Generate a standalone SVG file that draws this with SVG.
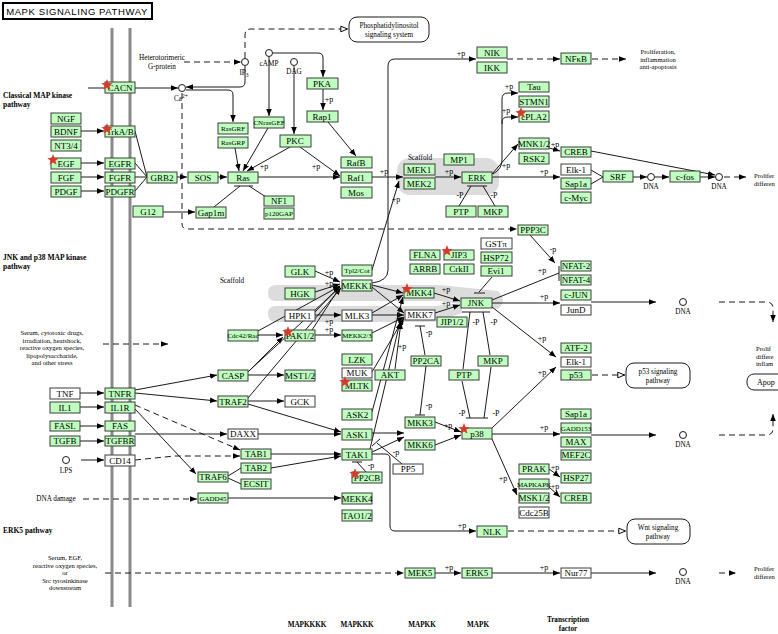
<svg xmlns="http://www.w3.org/2000/svg" xmlns:xlink="http://www.w3.org/1999/xlink" width="778" height="634" viewBox="0 0 778 634">
<style>
.n{fill:#bfffbf;stroke:#3c3c3c;stroke-width:1}
.w{fill:#ffffff;stroke:#3c3c3c;stroke-width:1}
.t{font-family:"Liberation Serif",serif;font-size:9px;text-anchor:middle;fill:#000}
.s{font-family:"Liberation Serif",serif;font-size:7px;text-anchor:middle;fill:#000}
.f{font-family:"Liberation Serif",serif;font-size:7.2px;text-anchor:middle;fill:#000}
.g{font-family:"Liberation Serif",serif;font-size:6.6px;text-anchor:middle;fill:#000}
.fl{font-family:"Liberation Serif",serif;font-size:6.6px;fill:#000}
.b{font-family:"Liberation Serif",serif;font-size:7.5px;font-weight:bold;fill:#000}
.bc{font-family:"Liberation Serif",serif;font-size:7.2px;font-weight:bold;text-anchor:middle;fill:#000}
.p{font-family:"Liberation Serif",serif;font-size:8px;text-anchor:middle;fill:#000}
.l{fill:none;stroke:#1a1a1a;stroke-width:1}
.la{fill:none;stroke:#1a1a1a;stroke-width:1;marker-end:url(#ar)}
.d{fill:none;stroke:#1a1a1a;stroke-width:1;stroke-dasharray:6,4}
.da{fill:none;stroke:#1a1a1a;stroke-width:1;stroke-dasharray:6,4;marker-end:url(#ar)}
.do{fill:none;stroke:#1a1a1a;stroke-width:1;stroke-dasharray:6,4;marker-end:url(#ao)}
.c{fill:#fff;stroke:#1a1a1a;stroke-width:1}
.pw{fill:#fff;stroke:#1a1a1a;stroke-width:1}
.sc{fill:#dcdcdc;stroke:none}
.st{fill:#d83a2a;stroke:none}
</style>
<defs>
<marker id="ar" viewBox="0 0 10 10" refX="10" refY="5" markerWidth="7" markerHeight="7" orient="auto" markerUnits="userSpaceOnUse"><path d="M0,1 L10,5 L0,9 z" fill="#000"/></marker>
<marker id="ao" viewBox="0 0 10 10" refX="10" refY="5" markerWidth="8" markerHeight="8" orient="auto" markerUnits="userSpaceOnUse"><path d="M1,1.5 L9.5,5 L1,8.5 z" fill="#fff" stroke="#000" stroke-width="1.2"/></marker>
<polygon id="star" points="0,-6 1.47,-2.02 5.71,-1.85 2.38,0.77 3.53,4.85 0,2.5 -3.53,4.85 -2.38,0.77 -5.71,-1.85 -1.47,-2.02" class="st"/>
</defs>
<rect width="778" height="634" fill="#fff"/>

<!-- title -->
<g id="title">
<rect x="3" y="3" width="149" height="16" fill="#fff" stroke="#000" stroke-width="2"/>
<text x="77" y="15" font-family="Liberation Sans, sans-serif" font-size="9.5px" letter-spacing="0.6" text-anchor="middle">MAPK SIGNALING PATHWAY</text>
</g>

<!-- membrane -->
<g id="membrane">
<line x1="112" y1="28" x2="112" y2="607" stroke="#8a8a8a" stroke-width="3"/>
<line x1="130" y1="28" x2="130" y2="607" stroke="#8a8a8a" stroke-width="3"/>
</g>

<!-- scaffolds -->
<g id="scaffolds">
<rect x="397" y="158" width="102" height="37" rx="13" class="sc"/>
<path class="sc" d="M276,285 H440 L498,291 Q508,300 498,309 L440,301 H276 Q268,301 268,293 Q268,285 276,285 Z"/>
<path class="sc" d="M276,306 H436 L462,303 L462,313 L436,322 H276 Q268,322 268,314 Q268,306 276,306 Z"/>
</g>

<!-- labels -->
<g id="labels">
<text class="b" x="3" y="98">Classical MAP kinase</text>
<text class="b" x="3" y="107">pathway</text>
<text class="b" x="3" y="260">JNK and p38 MAP kinase</text>
<text class="b" x="3" y="269">pathway</text>
<text class="b" x="3" y="533">ERK5 pathway</text>
<text class="f" x="162" y="60">Heterotorimeric</text>
<text class="f" x="162" y="69">G-protein</text>
<text class="f" x="420" y="160">Scaffold</text>
<text class="f" x="232" y="283">Scaffold</text>
<text class="g" x="658" y="54">Proliferation,</text>
<text class="g" x="658" y="61.5">inflammation</text>
<text class="g" x="658" y="69">anti-apoptosis</text>
<text class="fl" x="754" y="178">Prolifer</text>
<text class="fl" x="754" y="185.5">differen</text>
<text class="fl" x="756" y="351">Prolif</text>
<text class="fl" x="756" y="358.5">differe</text>
<text class="fl" x="756" y="366">inflam</text>
<text class="fl" x="754" y="571">Prolifer</text>
<text class="fl" x="754" y="578.5">differen</text>
<text class="g" x="52" y="335">Serum, cytotoxic drugs,</text>
<text class="g" x="52" y="342.5">irradiation, heatshock,</text>
<text class="g" x="52" y="350">reactive oxygen species,</text>
<text class="g" x="52" y="357.5">lipopolysaccharide,</text>
<text class="g" x="52" y="365">and other stress</text>
<text class="f" x="56" y="501">DNA damage</text>
<text class="g" x="65" y="560">Serum, EGF,</text>
<text class="g" x="65" y="567.5">reactive oxygen species,</text>
<text class="g" x="65" y="575">or</text>
<text class="g" x="65" y="582.5">Src tyrosinkinase</text>
<text class="g" x="65" y="590">downstream</text>
<text class="bc" x="307" y="627">MAPKKKK</text>
<text class="bc" x="357" y="627">MAPKKK</text>
<text class="bc" x="422" y="627">MAPKK</text>
<text class="bc" x="478" y="627">MAPK</text>
<text class="bc" x="568" y="622">Transcription</text>
<text class="bc" x="568" y="630.5">factor</text>
</g>

<!-- small molecules / DNA -->
<g id="compounds">
<circle class="c" cx="182" cy="88" r="3.5"/><text class="f" x="181" y="101">Ca<tspan font-size="5.5px" dy="-3">2+</tspan></text>
<circle class="c" cx="245" cy="62" r="3.5"/><text class="f" x="244" y="75">IP<tspan font-size="5.5px" dy="2">3</tspan></text>
<circle class="c" cx="269" cy="53" r="3.5"/><text class="f" x="269" y="66">cAMP</text>
<circle class="c" cx="294" cy="62" r="3.5"/><text class="f" x="294" y="74">DAG</text>
<circle class="c" cx="66" cy="460" r="3.5"/><text class="f" x="66" y="473">LPS</text>
<circle class="c" cx="651" cy="177" r="3.5"/><text class="f" x="651" y="189">DNA</text>
<circle class="c" cx="719" cy="177" r="3.5"/><text class="f" x="719" y="189">DNA</text>
<circle class="c" cx="683" cy="302" r="3.5"/><text class="f" x="683" y="314">DNA</text>
<circle class="c" cx="683" cy="435" r="3.5"/><text class="f" x="683" y="447">DNA</text>
<circle class="c" cx="683" cy="572" r="3.5"/><text class="f" x="683" y="584">DNA</text>
</g>

<!-- pathway maps -->
<g id="map-phosphatidylinositol"><rect class="pw" x="349" y="17" width="80" height="25" rx="8"/><text class="f" x="389" y="28">Phosphatidylinositol</text><text class="f" x="389" y="36.5">signaling system</text></g>
<g id="map-p53"><rect class="pw" x="626" y="363" width="64" height="25" rx="8"/><text class="f" x="658" y="374">p53 signaling</text><text class="f" x="658" y="382.5">pathway</text></g>
<g id="map-wnt"><rect class="pw" x="627" y="519" width="63" height="25" rx="8"/><text class="f" x="658" y="530">Wnt signaling</text><text class="f" x="658" y="538.5">pathway</text></g>
<g id="map-apoptosis"><rect class="pw" x="747" y="374" width="45" height="16" rx="7"/><text x="757" y="385" style="font-family:'Liberation Serif',serif;font-size:8px;fill:#000">Apop</text></g>

<!-- connectors -->
<g id="connectors">
<path class="l" d="M88,88 H104"/>
<path class="la" d="M135,88 H178"/>
<path class="la" d="M245,66 V82 Q245,87 240,87 H186"/>
<path class="la" d="M186,90 H228 Q233,90 233,95 V122"/>
<path class="da" d="M182,93 V224 Q182,229 187,229 H517"/>
<path class="da" d="M184,62 H241"/>
<path class="do" d="M245,58 V35 Q245,29 251,29 H348"/>
<path class="la" d="M269,57 V116"/>
<path class="la" d="M273,53 H318 Q323,53 323,58 V77"/>
<path class="la" d="M294,66 V134"/>
<path class="la" d="M323,89 V110"/>
<path class="la" d="M328,122 L356,156"/>
<path class="la" d="M235,148 L239,171"/>
<path class="la" d="M268,128 L243,171"/>
<path class="la" d="M290,147 L247,171"/>
<path class="la" d="M300,147 L340,176"/>
<path class="la" d="M81,131 H104"/>
<path class="la" d="M81,163 H104"/>
<path class="la" d="M81,177 H104"/>
<path class="la" d="M81,191 H104"/>
<path class="l" d="M135,131 L147,177 M135,163 L147,177 M135,177 H147 M135,191 L147,177"/>
<path class="la" d="M177,177 H187"/>
<path class="la" d="M218,177 H227"/>
<path class="la" d="M258,177 H340"/>
<path class="la" d="M163,212 H195"/>
<path class="l" d="M234,186 H253 M240,186 L214,207 M249,186 L266,197"/>
<path class="la" d="M372,177 H403"/>
<path class="la" d="M372,270 L399,181"/>
<path class="la" d="M435,177 H461"/>
<path class="la" d="M492,174 L518,144"/>
<path class="la" d="M493,174 Q502,169 502,160 V99 Q502,93 508,93 H518"/>
<path class="la" d="M502,124 V122 Q502,117 508,117 H518"/>
<path class="la" d="M492,177 H560"/>
<path class="la" d="M549,148 L560,151"/>
<path class="l" d="M591,170 L603,177 M591,184 L603,177"/>
<path class="la" d="M633,177 H647"/>
<path class="la" d="M655,177 H669"/>
<path class="la" d="M700,177 H715"/>
<path class="la" d="M591,151 L715,175"/>
<path class="da" d="M724,177 H746"/>
<path class="l" d="M467,186 H487 M471,186 L459,206 M483,186 L495,206"/>
<path class="da" d="M507,59 H560"/>
<path class="da" d="M592,59 H626"/>
<path class="la" d="M372,283 Q388,281 388,270 V66 Q388,59 395,59 H476"/>

<path class="da" d="M103,344 H168"/>
<path class="la" d="M80,393 H104"/>
<path class="la" d="M80,407 H104"/>
<path class="la" d="M80,426 H104"/>
<path class="la" d="M80,441 H104"/>
<path class="la" d="M81,460 H104"/>
<path class="la" d="M135,390 L217,375"/>
<path class="la" d="M135,393 L217,401"/>
<path class="la" d="M135,409 L196,474"/>
<path class="da" d="M135,405 L240,450"/>
<path class="la" d="M135,434 H227"/>
<path class="da" d="M135,460 L175,456 H240"/>
<path class="l" d="M228,476 L241,468 M228,478 L241,484"/>
<path class="la" d="M271,454 H341"/>
<path class="la" d="M271,468 L341,456"/>
<path class="la" d="M228,498 H341"/>
<path class="da" d="M83,499 H197"/>
<path class="la" d="M258,434 H341"/>
<path class="la" d="M248,404 L341,432"/>
<path class="la" d="M248,375 H284"/>
<path class="la" d="M248,401 H284"/>
<path class="la" d="M258,335 H283"/>
<path class="la" d="M248,372 L283,337"/>
<path class="la" d="M250,370 L340,287"/>
<path class="la" d="M248,398 L341,288"/>
<path class="la" d="M258,331 L340,286"/>
<path class="la" d="M315,271 L340,282"/>
<path class="la" d="M315,292 L340,284"/>
<path class="la" d="M315,312 L340,286"/>
<path class="la" d="M315,315 H341"/>
<path class="la" d="M315,335 H341"/>
<path class="l" d="M312,330 L340,287"/>
<path class="la" d="M372,285 L403,293"/>
<path class="la" d="M372,287 L404,313"/>
<path class="la" d="M372,313 L403,295"/>
<path class="la" d="M372,315 H404"/>
<path class="la" d="M372,333 L404,317"/>
<path class="la" d="M372,372 L404,318"/>
<path class="la" d="M372,412 L403,297"/>
<path class="la" d="M370,449 L400,322"/>
<path class="la" d="M395,369 L401,322"/>
<path class="la" d="M372,433 H404"/>
<path class="la" d="M372,452 L404,437"/>
<path class="la" d="M434,293 L460,301"/>
<path class="la" d="M435,313 L460,305"/>
<path class="l" d="M492,277 L479,292 M474,293 H485"/>
<path class="l" d="M492,300 L559,273 M559,266 V281"/>
<path class="la" d="M530,235 L555,263"/>
<path class="la" d="M492,303 H560"/>
<path class="la" d="M492,307 L556,357"/>
<path class="la" d="M492,428 L556,367"/>
<path class="l" d="M462,312 H490 M470,312 L463,369 M483,312 L490,355"/>
<path class="l" d="M466,418 H488 M470,418 L462,381 M484,418 L491,367"/>
<path class="l" d="M425,355 L420,326 M415,326 H425"/>
<path class="l" d="M426,366 L420,415 M415,415 H425"/>
<path class="l" d="M402,464 L377,443 M372,446 L380,439"/>
<path class="l" d="M366,472 L357,462 M352,462 H362"/>
<path class="la" d="M372,454 H385 Q390,454 390,459 V526 Q390,531 395,531 H476"/>
<path class="la" d="M435,422 L461,432"/>
<path class="la" d="M435,445 L461,435"/>
<path class="la" d="M492,434 H560"/>
<path class="la" d="M492,439 L517,495"/>
<path class="la" d="M549,469 L560,477"/>
<path class="la" d="M549,487 L560,497"/>
<path class="la" d="M591,435 H656"/>
<path class="da" d="M719,435 H766 Q773,435 773,429 V414"/>
<path class="la" d="M591,302 H656"/>
<path class="da" d="M719,302 H766 Q773,302 773,308 V322"/>
<path class="do" d="M592,375 H625"/>
<path class="do" d="M508,531 H626"/>
<path class="da" d="M105,573 H404"/>
<path class="la" d="M435,573 H461"/>
<path class="la" d="M492,573 H560"/>
<path class="la" d="M591,573 H656"/>
<path class="da" d="M719,573 H736"/>
</g>

<!-- phosphorylation labels -->
<g id="plabels">
<text class="p" x="329" y="102">+p</text>
<text class="p" x="264" y="169">+p</text>
<text class="p" x="316" y="169">+p</text>
<text class="p" x="384" y="174">+p</text>
<text class="p" x="449" y="174">+p</text>
<text class="p" x="396" y="202">+p</text>
<text class="p" x="461" y="56">+p</text>
<text class="p" x="509" y="89">+p</text>
<text class="p" x="506" y="113">+p</text>
<text class="p" x="506" y="168">+p</text>
<text class="p" x="544" y="174">+p</text>
<text class="p" x="555" y="147">+p</text>
<text class="p" x="460" y="198">-P</text>
<text class="p" x="494" y="198">-P</text>
<text class="p" x="329" y="275">+p</text>
<text class="p" x="329" y="286">+p</text>
<text class="p" x="329" y="324">+p</text>
<text class="p" x="329" y="332">+p</text>
<text class="p" x="446" y="292">+p</text>
<text class="p" x="446" y="306">+p</text>
<text class="p" x="542" y="273">+p</text>
<text class="p" x="553" y="252">-p</text>
<text class="p" x="544" y="299">+p</text>
<text class="p" x="542" y="341">+p</text>
<text class="p" x="542" y="375">+p</text>
<text class="p" x="476" y="325">-P</text>
<text class="p" x="494" y="325">-P</text>
<text class="p" x="462" y="416">-P</text>
<text class="p" x="496" y="416">-P</text>
<text class="p" x="429" y="335">-p</text>
<text class="p" x="429" y="408">-p</text>
<text class="p" x="402" y="349">+p</text>
<text class="p" x="396" y="455">-p</text>
<text class="p" x="371" y="468">-p</text>
<text class="p" x="448" y="428">+p</text>
<text class="p" x="544" y="430">+p</text>
<text class="p" x="503" y="481">+p</text>
<text class="p" x="555" y="470">+p</text>
<text class="p" x="555" y="489">+p</text>
<text class="p" x="462" y="528">+p</text>
<text class="p" x="449" y="570">+p</text>
<text class="p" x="544" y="570">+p</text>
</g>

<!-- nodes: classical -->
<g id="CACN"><rect class="n" x="105" y="82" width="30" height="11"/><text class="t" x="120" y="91">CACN</text><use xlink:href="#star" x="107" y="85"/></g>
<g id="NGF"><rect class="n" x="51" y="113" width="30" height="11"/><text class="t" x="66" y="122">NGF</text></g>
<g id="BDNF"><rect class="n" x="51" y="126" width="30" height="11"/><text class="t" x="66" y="135">BDNF</text></g>
<g id="NT34"><rect class="n" x="51" y="140" width="30" height="11"/><text class="t" x="66" y="149">NT3/4</text></g>
<g id="EGF"><rect class="n" x="51" y="158" width="30" height="11"/><text class="t" x="66" y="167">EGF</text><use xlink:href="#star" x="53" y="160"/></g>
<g id="FGF"><rect class="n" x="51" y="172" width="30" height="11"/><text class="t" x="66" y="181">FGF</text></g>
<g id="PDGF"><rect class="n" x="51" y="186" width="30" height="11"/><text class="t" x="66" y="195">PDGF</text></g>
<g id="TrkAB"><rect class="n" x="105" y="126" width="30" height="11"/><text class="t" x="120" y="135">TrkA/B</text><use xlink:href="#star" x="107" y="129"/></g>
<g id="EGFR"><rect class="n" x="105" y="158" width="30" height="11"/><text class="t" x="120" y="167">EGFR</text></g>
<g id="FGFR"><rect class="n" x="105" y="172" width="30" height="11"/><text class="t" x="120" y="181">FGFR</text></g>
<g id="PDGFR"><rect class="n" x="105" y="186" width="30" height="11"/><text class="t" x="120" y="195">PDGFR</text></g>
<g id="GRB2"><rect class="n" x="147" y="172" width="30" height="11"/><text class="t" x="162" y="181">GRB2</text></g>
<g id="SOS"><rect class="n" x="188" y="172" width="30" height="11"/><text class="t" x="203" y="181">SOS</text></g>
<g id="Ras"><rect class="n" x="228" y="172" width="30" height="11"/><text class="t" x="243" y="181">Ras</text></g>
<g id="G12"><rect class="n" x="133" y="206" width="30" height="11"/><text class="t" x="148" y="215">G12</text></g>
<g id="Gap1m"><rect class="n" x="196" y="207" width="30" height="11"/><text class="t" x="211" y="216">Gap1m</text></g>
<g id="NF1"><rect class="n" x="264" y="196" width="30" height="10"/><text class="t" x="279" y="204">NF1</text></g>
<g id="p120GAP"><rect class="n" x="264" y="208" width="30" height="11"/><text class="s" x="279" y="216">p120GAP</text></g>
<g id="RasGRF"><rect class="n" x="218" y="123" width="30" height="11"/><text class="s" x="233" y="131">RasGRF</text></g>
<g id="RasGRP"><rect class="n" x="218" y="137" width="30" height="11"/><text class="s" x="233" y="145">RasGRP</text></g>
<g id="CNrasGEF"><rect class="n" x="254" y="117" width="30" height="11"/><text class="s" x="269" y="125">CNrasGEF</text></g>
<g id="PKA"><rect class="n" x="307" y="78" width="31" height="11"/><text class="t" x="322" y="87">PKA</text></g>
<g id="Rap1"><rect class="n" x="307" y="111" width="31" height="11"/><text class="t" x="322" y="120">Rap1</text></g>
<g id="PKC"><rect class="n" x="280" y="135" width="31" height="12"/><text class="t" x="295" y="144">PKC</text></g>
<g id="RafB"><rect class="n" x="341" y="157" width="31" height="11"/><text class="t" x="356" y="166">RafB</text></g>
<g id="Raf1"><rect class="n" x="341" y="172" width="31" height="11"/><text class="t" x="356" y="181">Raf1</text></g>
<g id="Mos"><rect class="n" x="341" y="187" width="31" height="11"/><text class="t" x="356" y="196">Mos</text></g>
<g id="NIK"><rect class="n" x="477" y="47" width="30" height="11"/><text class="t" x="492" y="56">NIK</text></g>
<g id="IKK"><rect class="n" x="477" y="62" width="30" height="11"/><text class="t" x="492" y="71">IKK</text></g>
<g id="NFkB"><rect class="n" x="561" y="53" width="30" height="11"/><text class="t" x="576" y="62">NFκB</text></g>
<g id="MEK1"><rect class="n" x="404" y="164" width="31" height="11"/><text class="t" x="419" y="173">MEK1</text></g>
<g id="MEK2"><rect class="n" x="404" y="178" width="31" height="11"/><text class="t" x="419" y="187">MEK2</text></g>
<g id="MP1"><rect class="n" x="444" y="154" width="30" height="11"/><text class="t" x="459" y="163">MP1</text></g>
<g id="ERK"><rect class="n" x="462" y="172" width="30" height="11"/><text class="t" x="477" y="181">ERK</text></g>
<g id="PTP1"><rect class="n" x="446" y="206" width="30" height="11"/><text class="t" x="461" y="215">PTP</text></g>
<g id="MKP1"><rect class="n" x="478" y="206" width="30" height="11"/><text class="t" x="493" y="215">MKP</text></g>
<g id="Tau"><rect class="n" x="519" y="82" width="30" height="10"/><text class="t" x="534" y="90">Tau</text></g>
<g id="STMN1"><rect class="n" x="519" y="96" width="30" height="11"/><text class="t" x="534" y="105">STMN1</text></g>
<g id="cPLA2"><rect class="n" x="519" y="111" width="30" height="11"/><text class="t" x="534" y="120">cPLA2</text><use xlink:href="#star" x="521" y="113"/></g>
<g id="MNK12"><rect class="n" x="519" y="138" width="30" height="11"/><text class="t" x="534" y="147">MNK1/2</text></g>
<g id="RSK2"><rect class="n" x="519" y="153" width="30" height="11"/><text class="t" x="534" y="162">RSK2</text></g>
<g id="CREB1"><rect class="n" x="561" y="147" width="30" height="10"/><text class="t" x="576" y="155">CREB</text></g>
<g id="Elk1a"><rect class="w" x="561" y="164" width="30" height="11"/><text class="t" x="576" y="173">Elk-1</text></g>
<g id="Sap1a1"><rect class="n" x="561" y="178" width="30" height="11"/><text class="t" x="576" y="187">Sap1a</text></g>
<g id="cMyc"><rect class="n" x="561" y="192" width="30" height="11"/><text class="t" x="576" y="201">c-Myc</text></g>
<g id="SRF"><rect class="n" x="603" y="171" width="30" height="11"/><text class="t" x="618" y="180">SRF</text></g>
<g id="cfos"><rect class="n" x="670" y="171" width="30" height="11"/><text class="t" x="685" y="180">c-fos</text></g>

<!-- nodes: JNK / p38 -->
<g id="GLK"><rect class="n" x="285" y="266" width="30" height="11"/><text class="t" x="300" y="275">GLK</text></g>
<g id="HGK"><rect class="n" x="285" y="288" width="30" height="11"/><text class="t" x="300" y="297">HGK</text></g>
<g id="HPK1"><rect class="w" x="285" y="310" width="30" height="11"/><text class="t" x="300" y="319">HPK1</text></g>
<g id="Cdc42Rac"><rect class="n" x="228" y="330" width="30" height="11"/><text class="s" x="243" y="338">Cdc42/Rac</text></g>
<g id="PAK12"><rect class="n" x="285" y="330" width="30" height="11"/><text class="t" x="300" y="339">PAK1/2</text><use xlink:href="#star" x="288" y="332"/></g>
<g id="CASP"><rect class="n" x="218" y="370" width="30" height="11"/><text class="t" x="233" y="379">CASP</text></g>
<g id="MST12"><rect class="n" x="285" y="370" width="30" height="11"/><text class="t" x="300" y="379">MST1/2</text></g>
<g id="TRAF2"><rect class="n" x="218" y="396" width="30" height="11"/><text class="t" x="233" y="405">TRAF2</text></g>
<g id="GCK"><rect class="w" x="285" y="396" width="30" height="11"/><text class="t" x="300" y="405">GCK</text></g>
<g id="Tpl2Cot"><rect class="n" x="342" y="265" width="30" height="11"/><text class="s" x="357" y="273">Tpl2/Cot</text></g>
<g id="MEKK1"><rect class="n" x="342" y="280" width="30" height="11"/><text class="t" x="357" y="289">MEKK1</text></g>
<g id="MLK3"><rect class="w" x="342" y="310" width="30" height="11"/><text class="t" x="357" y="319">MLK3</text></g>
<g id="MEKK23"><rect class="n" x="342" y="330" width="30" height="11"/><text class="s" x="357" y="338">MEKK2/3</text></g>
<g id="LZK"><rect class="n" x="342" y="354" width="30" height="11"/><text class="t" x="357" y="363">LZK</text></g>
<g id="MUK"><rect class="w" x="342" y="368" width="30" height="10"/><text class="t" x="357" y="376">MUK</text></g>
<g id="MLTK"><rect class="n" x="342" y="380" width="30" height="11"/><text class="t" x="357" y="389">MLTK</text><use xlink:href="#star" x="345" y="382"/></g>
<g id="ASK2"><rect class="n" x="342" y="409" width="30" height="11"/><text class="t" x="357" y="418">ASK2</text></g>
<g id="ASK1"><rect class="n" x="342" y="429" width="30" height="11"/><text class="t" x="357" y="438">ASK1</text></g>
<g id="TAK1"><rect class="n" x="342" y="449" width="30" height="11"/><text class="t" x="357" y="458">TAK1</text></g>
<g id="PP2CB"><rect class="n" x="352" y="472" width="30" height="11"/><text class="t" x="367" y="481">PP2CB</text><use xlink:href="#star" x="355" y="474"/></g>
<g id="MEKK4"><rect class="n" x="342" y="493" width="30" height="11"/><text class="t" x="357" y="502">MEKK4</text></g>
<g id="TAO12"><rect class="n" x="342" y="510" width="30" height="11"/><text class="t" x="357" y="519">TAO1/2</text></g>
<g id="TNF"><rect class="w" x="50" y="388" width="30" height="11"/><text class="t" x="65" y="397">TNF</text></g>
<g id="IL1"><rect class="n" x="50" y="402" width="30" height="11"/><text class="t" x="65" y="411">IL1</text></g>
<g id="FASL"><rect class="n" x="50" y="421" width="30" height="10"/><text class="t" x="65" y="429">FASL</text></g>
<g id="TGFB"><rect class="n" x="50" y="436" width="30" height="10"/><text class="t" x="65" y="444">TGFB</text></g>
<g id="TNFR"><rect class="n" x="105" y="388" width="30" height="11"/><text class="t" x="120" y="397">TNFR</text></g>
<g id="IL1R"><rect class="n" x="105" y="402" width="30" height="11"/><text class="t" x="120" y="411">IL1R</text></g>
<g id="FAS"><rect class="n" x="105" y="421" width="30" height="10"/><text class="t" x="120" y="429">FAS</text></g>
<g id="TGFBR"><rect class="n" x="105" y="436" width="30" height="10"/><text class="t" x="120" y="444">TGFBR</text></g>
<g id="CD14"><rect class="w" x="105" y="455" width="30" height="11"/><text class="t" x="120" y="464">CD14</text></g>
<g id="DAXX"><rect class="w" x="228" y="429" width="30" height="10"/><text class="t" x="243" y="437">DAXX</text></g>
<g id="TAB1"><rect class="n" x="241" y="449" width="30" height="10"/><text class="t" x="256" y="457">TAB1</text></g>
<g id="TAB2"><rect class="n" x="241" y="463" width="30" height="10"/><text class="t" x="256" y="471">TAB2</text></g>
<g id="ECSIT"><rect class="n" x="241" y="479" width="30" height="10"/><text class="t" x="256" y="487">ECSIT</text></g>
<g id="TRAF6"><rect class="n" x="198" y="472" width="30" height="10"/><text class="t" x="213" y="480">TRAF6</text></g>
<g id="GADD45"><rect class="n" x="198" y="493" width="30" height="10"/><text class="s" x="213" y="501">GADD45</text></g>
<g id="FLNA"><rect class="n" x="410" y="250" width="30" height="10"/><text class="t" x="425" y="258">FLNA</text></g>
<g id="JIP3"><rect class="n" x="444" y="250" width="30" height="10"/><text class="t" x="459" y="258">JIP3</text><use xlink:href="#star" x="447" y="251"/></g>
<g id="ARRB"><rect class="n" x="410" y="264" width="30" height="10"/><text class="t" x="425" y="272">ARRB</text></g>
<g id="CrkII"><rect class="n" x="444" y="264" width="30" height="10"/><text class="t" x="459" y="272">CrkII</text></g>
<g id="GSTpi"><rect class="w" x="481" y="238" width="31" height="11"/><text class="t" x="496" y="247">GSTπ</text></g>
<g id="HSP72"><rect class="n" x="481" y="252" width="31" height="11"/><text class="t" x="496" y="261">HSP72</text></g>
<g id="Evi1"><rect class="n" x="481" y="266" width="31" height="10"/><text class="t" x="496" y="274">Evi1</text></g>
<g id="MKK4"><rect class="n" x="404" y="288" width="30" height="10"/><text class="t" x="419" y="296">MKK4</text><use xlink:href="#star" x="407" y="289"/></g>
<g id="MKK7"><rect class="w" x="405" y="310" width="30" height="10"/><text class="t" x="420" y="318">MKK7</text></g>
<g id="JIP12"><rect class="n" x="437" y="317" width="30" height="10"/><text class="t" x="452" y="325">JIP1/2</text></g>
<g id="JNK"><rect class="n" x="461" y="298" width="31" height="10"/><text class="t" x="476" y="306">JNK</text></g>
<g id="PP2CA"><rect class="n" x="411" y="356" width="30" height="10"/><text class="t" x="426" y="364">PP2CA</text></g>
<g id="AKT"><rect class="n" x="375" y="370" width="30" height="10"/><text class="t" x="390" y="378">AKT</text></g>
<g id="PTP2"><rect class="n" x="449" y="370" width="30" height="10"/><text class="t" x="464" y="378">PTP</text></g>
<g id="MKP2"><rect class="n" x="478" y="356" width="30" height="10"/><text class="t" x="493" y="364">MKP</text></g>
<g id="MKK3"><rect class="n" x="405" y="417" width="30" height="11"/><text class="t" x="420" y="426">MKK3</text></g>
<g id="MKK6"><rect class="n" x="405" y="440" width="30" height="10"/><text class="t" x="420" y="448">MKK6</text></g>
<g id="PP5"><rect class="w" x="393" y="464" width="30" height="10"/><text class="t" x="408" y="472">PP5</text></g>
<g id="p38"><rect class="n" x="462" y="428" width="30" height="11"/><text class="t" x="477" y="437">p38</text><use xlink:href="#star" x="464" y="429"/></g>
<g id="PPP3C"><rect class="n" x="518" y="225" width="30" height="10"/><text class="t" x="533" y="233">PPP3C</text></g>
<g id="NFAT2"><rect class="n" x="561" y="261" width="30" height="10"/><text class="t" x="576" y="269">NFAT-2</text></g>
<g id="NFAT4"><rect class="n" x="561" y="275" width="30" height="10"/><text class="t" x="576" y="283">NFAT-4</text></g>
<g id="cJUN"><rect class="n" x="561" y="290" width="30" height="10"/><text class="t" x="576" y="298">c-JUN</text></g>
<g id="JunD"><rect class="w" x="561" y="305" width="30" height="10"/><text class="t" x="576" y="313">JunD</text></g>
<g id="ATF2"><rect class="n" x="561" y="343" width="30" height="10"/><text class="t" x="576" y="351">ATF-2</text></g>
<g id="Elk1b"><rect class="w" x="561" y="357" width="30" height="10"/><text class="t" x="576" y="365">Elk-1</text></g>
<g id="p53"><rect class="n" x="561" y="370" width="30" height="10"/><text class="t" x="576" y="378">p53</text></g>
<g id="Sap1a2"><rect class="n" x="561" y="409" width="30" height="10"/><text class="t" x="576" y="417">Sap1a</text></g>
<g id="GADD153"><rect class="n" x="561" y="423" width="30" height="10"/><text class="s" x="576" y="431">GADD153</text></g>
<g id="MAX"><rect class="n" x="561" y="437" width="30" height="10"/><text class="t" x="576" y="445">MAX</text></g>
<g id="MEF2C"><rect class="n" x="561" y="450" width="30" height="10"/><text class="t" x="576" y="458">MEF2C</text></g>
<g id="PRAK"><rect class="n" x="519" y="464" width="30" height="10"/><text class="t" x="534" y="472">PRAK</text></g>
<g id="MAPKAPK"><rect class="n" x="519" y="479" width="30" height="10"/><text class="s" x="534" y="487">MAPKAPK</text></g>
<g id="MSK12"><rect class="n" x="519" y="493" width="30" height="10"/><text class="t" x="534" y="501">MSK1/2</text></g>
<g id="Cdc25B"><rect class="w" x="519" y="507" width="30" height="11"/><text class="t" x="534" y="516">Cdc25B</text></g>
<g id="HSP27"><rect class="n" x="561" y="473" width="30" height="10"/><text class="t" x="576" y="481">HSP27</text></g>
<g id="CREB2"><rect class="n" x="561" y="493" width="30" height="10"/><text class="t" x="576" y="501">CREB</text></g>
<g id="NLK"><rect class="n" x="477" y="526" width="30" height="11"/><text class="t" x="492" y="535">NLK</text></g>

<!-- nodes: ERK5 -->
<g id="MEK5"><rect class="n" x="405" y="568" width="30" height="10"/><text class="t" x="420" y="576">MEK5</text></g>
<g id="ERK5"><rect class="n" x="462" y="568" width="30" height="10"/><text class="t" x="477" y="576">ERK5</text></g>
<g id="Nur77"><rect class="w" x="561" y="568" width="30" height="10"/><text class="t" x="576" y="576">Nur77</text></g>
</svg>
